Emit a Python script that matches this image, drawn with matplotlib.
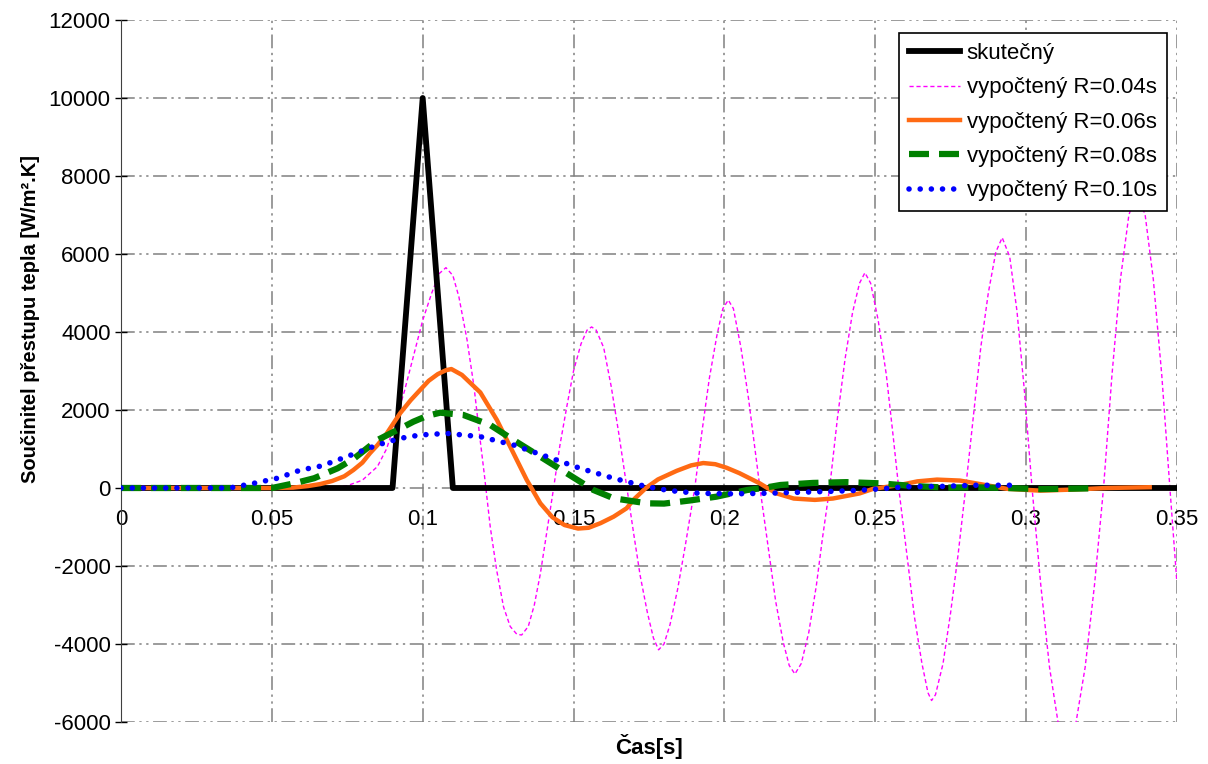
import matplotlib
matplotlib.use("Agg")
import matplotlib.pyplot as plt

plt.rcParams["font.family"] = ["Liberation Sans", "DejaVu Sans"]
plt.rcParams["axes.unicode_minus"] = False

# skutečný
t_real = [0.0, 0.09, 0.10, 0.11, 0.35]
h_real = [0, 0, 10000, 0, 0]

# vypočtený R=0.04s
t_r04 = [0.0, 0.060, 0.070, 0.075, 0.080, 0.085, 0.088, 0.091, 0.094, 0.097, 0.100, 0.103,
         0.1055, 0.1077, 0.110, 0.112, 0.1147, 0.117, 0.1191, 0.1205, 0.1224, 0.1245, 0.1268,
         0.129, 0.1312, 0.1328, 0.135, 0.137, 0.139, 0.141, 0.1434, 0.1455, 0.1478, 0.150,
         0.1525, 0.1545, 0.156, 0.1575, 0.160, 0.1625, 0.165, 0.1677, 0.170, 0.1721, 0.1745,
         0.1765, 0.1782, 0.180, 0.182, 0.1845, 0.187, 0.1902, 0.1925, 0.195, 0.1975, 0.1995,
         0.2013, 0.203, 0.2055, 0.208, 0.2118, 0.2145, 0.217, 0.2195, 0.2215, 0.2234, 0.2255,
         0.228, 0.2305, 0.2325, 0.2349, 0.2375, 0.240, 0.2425, 0.2448, 0.2466, 0.2485, 0.251,
         0.2537, 0.256, 0.2578, 0.2605, 0.263, 0.2655, 0.2675, 0.2687, 0.270, 0.2725, 0.275,
         0.2775, 0.280, 0.2825, 0.285, 0.2875, 0.290, 0.2921, 0.2946, 0.297, 0.2995, 0.302,
         0.3049, 0.3078, 0.3106, 0.3135, 0.3166, 0.3196, 0.3227, 0.3257, 0.3285, 0.3313,
         0.3341, 0.3367, 0.3395, 0.3422, 0.345, 0.3477, 0.35]
h_r04 = [0, 0, 20, 60, 200, 550, 1000, 1700, 2500, 3400, 4300, 5000,
         5500, 5650, 5450, 4900, 3800, 2600, 1200, 300, -1000, -2100, -3050,
         -3550, -3750, -3770, -3550, -3000, -2200, -1200, 0, 1100, 2100, 3000,
         3700, 4050, 4130, 4050, 3600, 2600, 1400, 0, -1200, -2250, -3200,
         -3850, -4150, -4000, -3500, -2600, -1500, 0, 1400, 2800, 3900, 4600,
         4820, 4600, 3600, 2300, 0, -1500, -2900, -3950, -4550, -4770, -4500,
         -3700, -2500, -1300, 0, 1800, 3300, 4500, 5250, 5520, 5250, 4300,
         2900, 1300, 0, -1700, -3300, -4500, -5250, -5450, -5300, -4500, -3200,
         -1700, 0, 1800, 3600, 5000, 6050, 6420, 5930, 4540, 2460, 0,
         -2490, -4600, -6000, -6500, -6000, -4600, -2490, 0, 2900, 5350,
         7000, 7600, 7000, 5350, 2900, 0, -2400]

# vypočtený R=0.06s
t_r06 = [0.0, 0.05, 0.057, 0.062, 0.066, 0.070, 0.074, 0.077, 0.080, 0.0825, 0.085, 0.0881,
         0.0925, 0.096, 0.0991, 0.102, 0.105, 0.1077, 0.1095, 0.113, 0.1191, 0.1246, 0.1301,
         0.1345, 0.139, 0.143, 0.147, 0.1515, 0.155, 0.159, 0.1633, 0.1676, 0.1699, 0.174,
         0.178, 0.1842, 0.189, 0.193, 0.197, 0.2007, 0.205, 0.2117, 0.2172, 0.223, 0.230,
         0.236, 0.2448, 0.2494, 0.2582, 0.264, 0.2705, 0.2781, 0.2826, 0.2936, 0.3047,
         0.3157, 0.3268, 0.341]
h_r06 = [0, 0, 10, 50, 100, 180, 300, 460, 650, 890, 1100, 1400,
         1915, 2250, 2510, 2750, 2920, 3020, 3050, 2900, 2450, 1744, 890,
         205, -393, -750, -950, -1040, -1020, -900, -735, -520, -300, 0,
         220, 440, 580, 640, 610, 520, 380, 120, -136, -270, -305,
         -270, -140, -20, 77, 170, 215, 190, 130, -20, -68,
         -40, 0, 20]

# vypočtený R=0.08s
t_r08 = [0.0, 0.050, 0.0574, 0.064, 0.0718, 0.0773, 0.085, 0.0916, 0.0969, 0.1015, 0.1058,
         0.1135, 0.1224, 0.1301, 0.139, 0.1478, 0.1566, 0.1633, 0.1743, 0.180, 0.1886,
         0.1974, 0.2076, 0.2129, 0.2186, 0.2294, 0.2404, 0.2515, 0.2625, 0.2736, 0.2826,
         0.2936, 0.3047, 0.3213]
h_r08 = [0, 0, 120, 250, 505, 760, 1230, 1487, 1700, 1850, 1931,
         1872, 1615, 1231, 803, 376, -51, -264, -393, -400, -320,
         -222, -51, 0, 77, 130, 150, 120, 50, 10, 18,
         0, -30, -10]

# vypočtený R=0.10s
t_r10 = [0.0, 0.036, 0.044, 0.0518, 0.0595, 0.0661, 0.0705, 0.0771, 0.0849, 0.0926, 0.0991,
         0.108, 0.1191, 0.1301, 0.1412, 0.1522, 0.1633, 0.1743, 0.1806, 0.1853, 0.1917,
         0.2027, 0.2138, 0.2248, 0.2359, 0.2447, 0.2494, 0.2605, 0.2715, 0.2826, 0.298]
h_r10 = [0, 0, 120, 250, 460, 560, 680, 870, 1100, 1274, 1359,
         1400, 1316, 1103, 803, 505, 248, 33, -51, -95, -136,
         -150, -136, -110, -85, -60, -35, 33, 40, 70, 70]

x_ticks = [0, 0.05, 0.1, 0.15, 0.2, 0.25, 0.3, 0.35]
x_ticklabels = ["0", "0.05", "0.1", "0.15", "0.2", "0.25", "0.3", "0.35"]
y_ticks = list(range(-6000, 12001, 2000))

fig = plt.figure(figsize=(12.08, 7.64), dpi=100)
ax = fig.add_axes([0.1002, 0.055, 0.874, 0.9188])

grid_style = dict(color="#808080", lw=1.1, dashes=(9, 3, 1.5, 3, 1.5, 3))
for xt in x_ticks[1:]:
    ax.axvline(xt, zorder=0.5, **grid_style)
for yt in y_ticks:
    ax.axhline(yt, zorder=0.5, **grid_style)

ax.plot(t_real, h_real, color="black", lw=4.2, label="skutečný", zorder=3)
ax.plot(t_r04, h_r04, color="#FF00FF", lw=1.0, linestyle=(0, (3, 2)),
        label="vypočtený R=0.04s", zorder=2)
ax.plot(t_r06, h_r06, color="#FF6A13", lw=3.2, label="vypočtený R=0.06s", zorder=4)
ax.plot(t_r08, h_r08, color="#008000", lw=4.5, linestyle=(0, (3.2, 1.6)),
        label="vypočtený R=0.08s", zorder=5)
ax.plot(t_r10, h_r10, color="#0000FF", lw=4.0, linestyle=(0, (0.01, 2.0)),
        dash_capstyle="round", label="vypočtený R=0.10s", zorder=6)

ax.set_xlim(0, 0.35)
ax.set_ylim(-6000, 12000)
ax.set_xticks(x_ticks)
ax.set_xticklabels(x_ticklabels)
ax.set_yticks(y_ticks)

for s in ["top", "right", "bottom"]:
    ax.spines[s].set_visible(False)
ax.spines["left"].set_color("#404040")
ax.xaxis.set_ticks_position("none")
ax.tick_params(axis="y", direction="inout", length=8, width=1, colors="black")
ax.tick_params(axis="both", labelsize=16)
# x tick labels sit under the zero line
for lbl in ax.get_xticklabels():
    lbl.set_y(0.317)

ax.set_ylabel("Součinitel přestupu tepla [W/m².K]", fontsize=14.5, fontweight="bold")
ax.yaxis.set_label_coords(-0.077, 0.574)
ax.set_xlabel("Čas[s]", fontsize=16, fontweight="bold")
ax.xaxis.set_label_coords(0.5, -0.017)

leg = ax.legend(loc="upper right", bbox_to_anchor=(0.9905, 0.9815), borderaxespad=0,
                fontsize=16, frameon=True, fancybox=False, edgecolor="black",
                framealpha=1, handlelength=2.3, handletextpad=0.3, borderpad=0.45,
                labelspacing=0.6)
leg.get_frame().set_linewidth(1.2)
leg.set_zorder(10)

fig.savefig("out.png", dpi=100)
